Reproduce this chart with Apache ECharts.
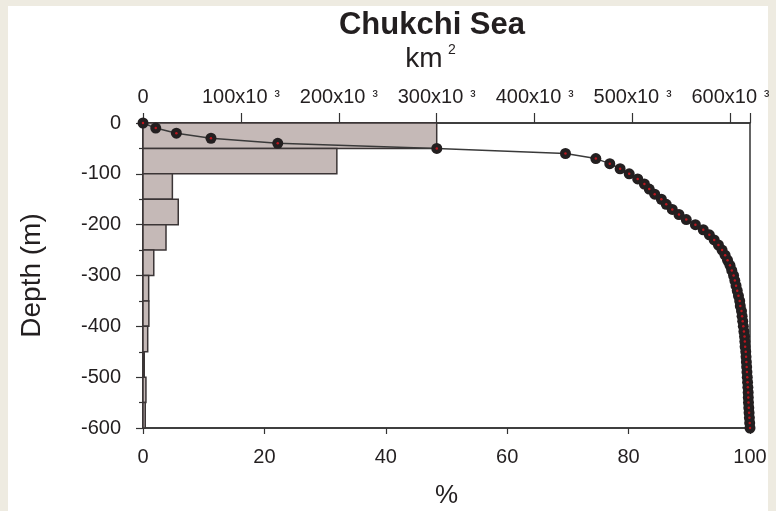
<!DOCTYPE html>
<html>
<head>
<meta charset="utf-8">
<script src="https://cdn.jsdelivr.net/npm/echarts@6/dist/echarts.min.js"></script>
<style>
html,body{margin:0;padding:0;background:#eeebe1;}
#chart{width:776px;height:511px;}
</style>
</head>
<body>
<div id="chart"></div>
<script>
// Depth bins (m) and area per bin (km^2)
var binTop    = [0, -50, -100, -150, -200, -250, -300, -350, -400, -450, -500, -550];
var binBottom = [-50, -100, -150, -200, -250, -300, -350, -400, -450, -500, -550, -600];
var binArea   = [300000, 198000, 30000, 36000, 23500, 11000, 5800, 6000, 4800, 1300, 3000, 2300];

// Hypsometric curve: depth (m) and cumulative area (%)
var curveDepth = [0,-10,-20,-30,-40,-50,-60,-70,-80,-90,-100,-110,-120,-130,-140,-150,-160,-170,-180,-190,-200,
  -210,-220,-230,-240,-250,-260,-270,-280,-290,-300,-310,-320,-330,-340,-350,-360,-370,-380,-390,-400,
  -410,-420,-430,-440,-450,-460,-470,-480,-490,-500,-510,-520,-530,-540,-550,-560,-570,-580,-590,-600];
var curvePct = [0,2.1,5.5,11.2,22.2,48.4,69.6,74.6,76.9,78.6,80.1,81.5,82.6,83.4,84.3,85.4,86.2,87.2,88.3,89.5,91.0,
  92.3,93.3,94.1,94.8,95.4,95.9,96.3,96.7,97.0,97.3,97.5,97.7,97.9,98.1,98.3,98.4,98.6,98.7,98.8,98.9,
  99.0,99.1,99.15,99.2,99.3,99.35,99.4,99.45,99.5,99.55,99.6,99.65,99.7,99.72,99.75,99.8,99.85,99.9,99.95,100];

var pctTicks = [0, 20, 40, 60, 80, 100];
var areaTicks = [0, 100000, 200000, 300000, 400000, 500000, 600000];

var FONT = "'Liberation Sans', Arial, sans-serif";
var TXT = '#231f20';
var LINE = '#333333';

var barData = binTop.map(function (t, i) { return [t, binBottom[i], binArea[i]]; });
var curveData = curveDepth.map(function (d, i) { return [curvePct[i], d]; });
var dotData = curveDepth.map(function (d, i) { return [curvePct[i], d]; });

var chart = echarts.init(document.getElementById('chart'), null, {renderer: 'canvas'});
chart.setOption({
  animation: false,
  backgroundColor: '#eeebe1',
  graphic: [
    {type: 'rect', z: -10, shape: {x: 8, y: 6, width: 760, height: 505}, style: {fill: '#ffffff'}},
    {type: 'text', style: {text: 'Chukchi Sea', x: 432, y: 25, align: 'center', verticalAlign: 'middle',
      font: 'bold 31px ' + FONT, fill: TXT}},
    {type: 'text', style: {text: 'km', x: 424, y: 59, align: 'center', verticalAlign: 'middle',
      font: '28px ' + FONT, fill: TXT}},
    {type: 'text', style: {text: '2', x: 452, y: 50, align: 'center', verticalAlign: 'middle',
      font: '14px ' + FONT, fill: TXT}}
  ],
  grid: {left: 143, right: 26, top: 123, bottom: 83, show: true, borderColor: LINE, borderWidth: 1.5,
    backgroundColor: 'transparent', containLabel: false, outerBoundsMode: 'none'},
  xAxis: [
    {
      type: 'value', position: 'bottom', min: 0, max: 100, interval: 20,
      name: '%', nameLocation: 'middle', nameGap: 55,
      nameTextStyle: {fontSize: 26, color: TXT, fontFamily: FONT},
      axisLine: {show: true, onZero: false, lineStyle: {color: LINE, width: 1.5}},
      axisTick: {show: true, inside: false, length: 6, lineStyle: {color: LINE, width: 1.2}},
      minorTick: {show: false},
      axisLabel: {fontSize: 20, color: TXT, fontFamily: FONT, margin: 19},
      splitLine: {show: false}
    },
    {
      type: 'value', position: 'top', min: 0, max: 620000, interval: 100000,
      axisLine: {show: true, onZero: false, lineStyle: {color: LINE, width: 1.5}},
      axisTick: {show: true, inside: false, length: 10, lineStyle: {color: LINE, width: 1.2}},
      minorTick: {show: false},
      axisLabel: {
        color: TXT, fontFamily: FONT, margin: 16,
        formatter: function (v) {
          if (v === 0) return '{a|0}';
          if (v > 600000) return '';
          return '{a|' + (v / 1000) + 'x10}{s|³}';
        },
        rich: {
          a: {fontSize: 20, color: TXT, fontFamily: FONT},
          s: {fontSize: 16, color: TXT, fontFamily: FONT, padding: [0, 0, 0, 7]}
        }
      },
      splitLine: {show: false}
    }
  ],
  yAxis: {
    type: 'value', min: -600, max: 0, interval: 100,
    name: 'Depth (m)', nameLocation: 'middle', nameGap: 97, nameRotate: 90,
    nameTextStyle: {fontSize: 28, color: TXT, fontFamily: FONT},
    axisLine: {show: true, onZero: false, lineStyle: {color: LINE, width: 1.5}},
    axisTick: {show: true, length: 7, lineStyle: {color: LINE, width: 1.2}},
    minorTick: {show: true, splitNumber: 2, length: 4, lineStyle: {color: LINE, width: 1.2}},
    axisLabel: {fontSize: 20, color: TXT, fontFamily: FONT, margin: 22},
    splitLine: {show: false}
  },
  series: [
    {
      type: 'custom', xAxisIndex: 1, yAxisIndex: 0, z: 2,
      data: barData,
      encode: {x: 2, y: [0, 1]},
      renderItem: function (params, api) {
        var p0 = api.coord([0, api.value(0)]);
        var p1 = api.coord([api.value(2), api.value(1)]);
        return {
          type: 'rect',
          shape: {x: p0[0], y: p0[1], width: p1[0] - p0[0], height: p1[1] - p0[1]},
          style: {fill: '#c5b9b7', stroke: '#3b3536', lineWidth: 1.5}
        };
      }
    },
    {
      type: 'line', xAxisIndex: 0, yAxisIndex: 0, z: 4,
      data: curveData,
      showSymbol: true, showAllSymbol: true, symbol: 'circle', symbolSize: 11,
      lineStyle: {color: '#3a3a3a', width: 1.5},
      itemStyle: {color: '#231f20', borderWidth: 0}
    },
    {
      type: 'scatter', xAxisIndex: 0, yAxisIndex: 0, z: 5,
      data: dotData, symbol: 'circle', symbolSize: 2.5,
      itemStyle: {color: '#e0141e'}
    }
  ]
});
</script>
</body>
</html>
